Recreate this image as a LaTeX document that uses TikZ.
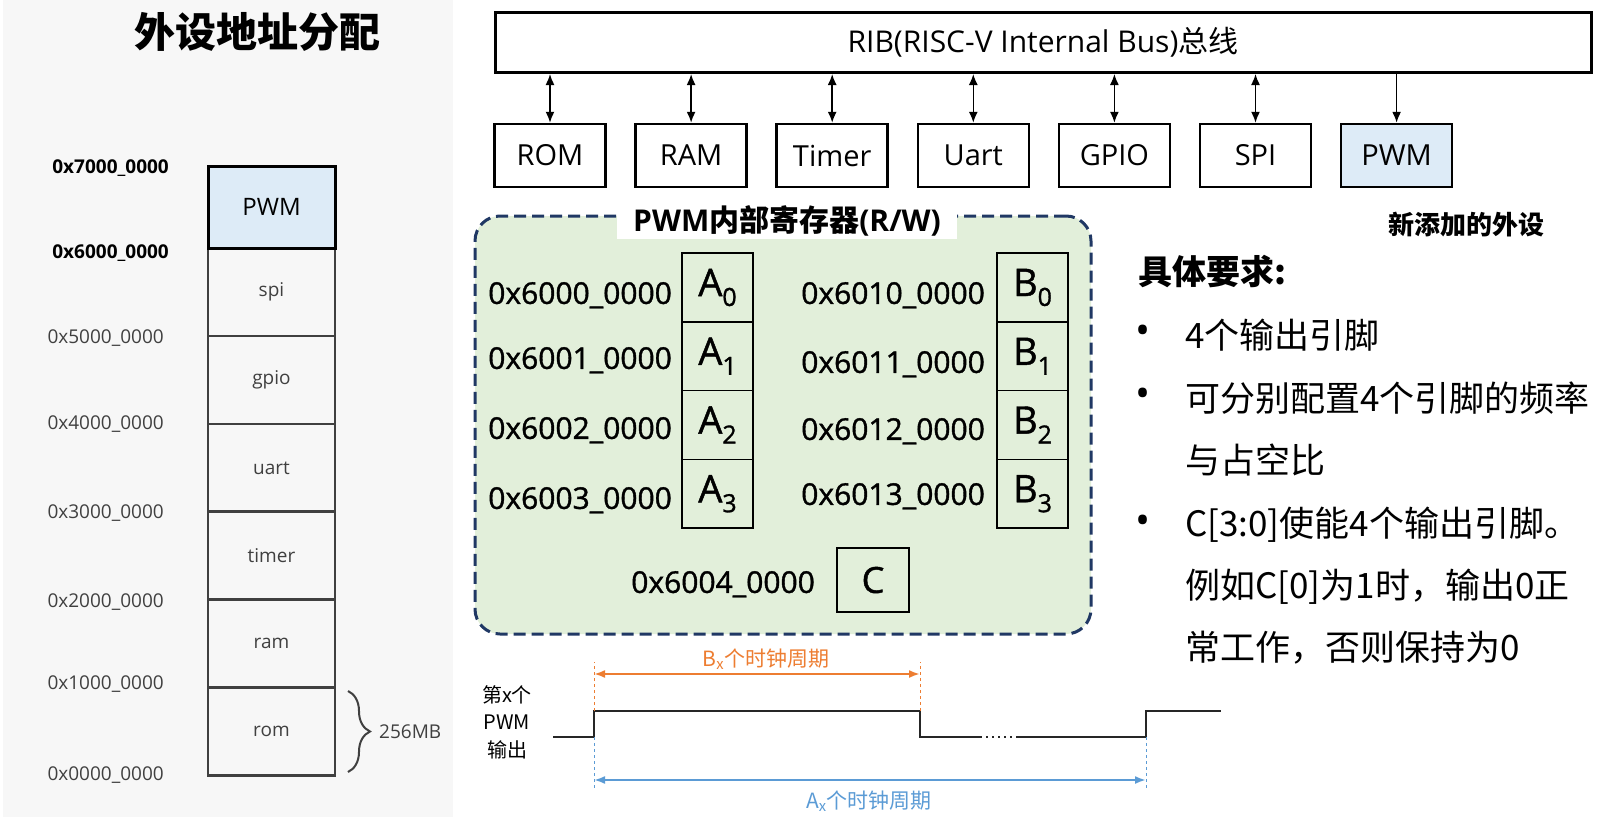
\documentclass[tikz,border=0pt]{standalone}
\usepackage{fontspec}
\usepackage{xcolor}
\usepackage{tikz}
\usetikzlibrary{arrows.meta,decorations.pathreplacing}
\setmainfont{Open Sans}
\newfontfamily\cjk{Noto Sans CJK SC}
\newfontfamily\addrfont[FakeBold=1.2]{Open Sans}
\definecolor{MMPanel}{HTML}{F7F7F7}
\definecolor{MMLine}{HTML}{404040}
\definecolor{PWMBlue}{HTML}{DDEBF7}
\definecolor{RegGreen}{HTML}{E2EFDA}
\definecolor{RegNavy}{HTML}{203864}
\definecolor{WaveOrange}{HTML}{ED7D31}
\definecolor{WaveBlue}{HTML}{5B9BD5}
\newcommand{\fsz}[1]{\fontsize{#1}{#1}\selectfont}
\newcommand{\regsub}[2]{#1\raisebox{-0.26em}{\fsz{25}#2}}
\tikzset{
  memcell/.style={draw=MMLine,line width=2.5pt,minimum width=127pt,minimum height=88pt,inner sep=0pt,font=\fsz{19},text=MMLine},
  memaddr/.style={anchor=east,inner sep=0pt,text depth=0pt,font=\fsz{19},text=MMLine},
  memaddrb/.style={anchor=east,inner sep=0pt,text depth=0pt,font=\bfseries\fsz{19}},
  periph/.style={draw,line width=2.5pt,minimum width=111pt,minimum height=63pt,inner sep=0pt,font=\fsz{29}},
  busarrow/.style={line width=1.5pt,{Latex[length=11pt,width=9pt]}-{Latex[length=11pt,width=9pt]}},
  regbox/.style={draw,line width=1.5pt,minimum width=71pt,minimum height=68.75pt,inner sep=0pt,font=\addrfont\fsz{38}},
  regaddr/.style={anchor=east,inner sep=0pt,text depth=0pt,font=\addrfont\fsz{30}},
  reqline/.style={anchor=west,inner sep=0pt,font=\cjk\fsz{35}},
  reqdot/.style={inner sep=0pt,font=\fsz{40}},
  wave/.style={line width=2.2pt,color=black!85},
  guide/.style={dash pattern=on 3pt off 3pt,line width=1pt},
  dimarrow/.style={line width=2pt,{Latex[length=11pt,width=8pt]}-{Latex[length=11pt,width=8pt]}},
}
\begin{document}
\begin{tikzpicture}[x=1pt,y=-1pt]
\path[use as bounding box] (0,0) rectangle (1617,817);
\fill[MMPanel] (3,0) rectangle (453,817);

% address map
\node[font=\cjk\bfseries\fsz{41}] (maptitle) at (257,32) {外设地址分配};
\node[memcell] (mspi) at (271.5,292) {spi};
\node[memcell] (mgpio) at (271.5,380) {gpio};
\node[memcell] (muart) at (271.5,468) {uart};
\node[memcell] (mtimer) at (271.5,555.5) {timer};
\node[memcell] (mram) at (271.5,643) {ram};
\node[memcell] (mrom) at (271.5,731.5) {rom};
\node[memcell,fill=PWMBlue,draw=black,line width=3pt,minimum height=82pt,text=black,font=\fsz{24}] (mpwm) at (271.5,207) {PWM};
\node[memaddrb] (a7) at (169,167) {0x7000\_0000};
\node[memaddrb] (a6) at (169,252) {0x6000\_0000};
\node[memaddr] (a5) at (164,337) {0x5000\_0000};
\node[memaddr] (a4) at (164,423) {0x4000\_0000};
\node[memaddr] (a3) at (164,512) {0x3000\_0000};
\node[memaddr] (a2) at (164,601) {0x2000\_0000};
\node[memaddr] (a1) at (164,683) {0x1000\_0000};
\node[memaddr] (a0) at (164,774) {0x0000\_0000};
\coordinate (brtop) at (348,691);
\coordinate (brbot) at (348,772);
\draw[decorate,decoration={brace,amplitude=22pt},line width=2pt,MMLine] (brtop) -- (brbot);
\node[memaddr,anchor=west] (romsize) at (379,732) {256MB};

% bus and peripherals
\node[draw,line width=3pt,minimum width=1096pt,minimum height=60pt,inner sep=0pt,font=\fsz{30}] (bus) at (1043,42.5) {RIB(RISC-V Internal Bus){\cjk 总线}};
\node[periph] (rom) at (550,155.5) {ROM};
\node[periph] (ram) at (691.1,155.5) {RAM};
\node[periph] (timer) at (832.2,155.5) {Timer};
\node[periph] (uart) at (973.3,155.5) {Uart};
\node[periph] (gpio) at (1114.4,155.5) {GPIO};
\node[periph] (spi) at (1255.5,155.5) {SPI};
\node[periph,fill=PWMBlue] (pwm) at (1396.6,155.5) {PWM};
\draw[busarrow] (bus.south -| rom) -- (rom.north);
\draw[busarrow] (bus.south -| ram) -- (ram.north);
\draw[busarrow] (bus.south -| timer) -- (timer.north);
\draw[busarrow] (bus.south -| uart) -- (uart.north);
\draw[busarrow] (bus.south -| gpio) -- (gpio.north);
\draw[busarrow] (bus.south -| spi) -- (spi.north);
\draw[line width=1.5pt,-{Latex[length=11pt,width=9pt]}] (bus.south -| pwm) -- (pwm.north);
\node[font=\cjk\bfseries\fsz{26}] (newtag) at (1466,225) {新添加的外设};

% PWM registers
\node[draw=RegNavy,dash pattern=on 12pt off 6pt,line width=3pt,rounded corners=25pt,fill=RegGreen,minimum width=616pt,minimum height=418pt] (regs) at (783,425) {};
\node[fill=white,minimum width=340pt,minimum height=37pt,inner sep=0pt,font=\bfseries\fsz{30}] (regtitle) at (787,220.5) {PWM{\cjk 内部寄存器}(R/W)};
\node[regbox] (ra0) at (717.5,287.5) {\regsub{A}{0}};
\node[regbox] (ra1) at (717.5,356.25) {\regsub{A}{1}};
\node[regbox] (ra2) at (717.5,425) {\regsub{A}{2}};
\node[regbox] (ra3) at (717.5,493.75) {\regsub{A}{3}};
\node[regbox] (rb0) at (1032.5,287.5) {\regsub{B}{0}};
\node[regbox] (rb1) at (1032.5,356.25) {\regsub{B}{1}};
\node[regbox] (rb2) at (1032.5,425) {\regsub{B}{2}};
\node[regbox] (rb3) at (1032.5,493.75) {\regsub{B}{3}};
\node[regbox,minimum width=72pt,minimum height=64pt,font=\addrfont\fsz{36}] (rc) at (873,580) {C};
\node[regaddr] (la0) at (672,293) {0x6000\_0000};
\node[regaddr] (la1) at (672,358) {0x6001\_0000};
\node[regaddr] (la2) at (672,428) {0x6002\_0000};
\node[regaddr] (la3) at (672,498) {0x6003\_0000};
\node[regaddr] (lb0) at (985,293) {0x6010\_0000};
\node[regaddr] (lb1) at (985,362) {0x6011\_0000};
\node[regaddr] (lb2) at (985,429) {0x6012\_0000};
\node[regaddr] (lb3) at (985,494) {0x6013\_0000};
\node[regaddr] (lc) at (815,582) {0x6004\_0000};

% requirements
\node[anchor=west,inner sep=0pt,font=\cjk\bfseries\fsz{34}] (reqhead) at (1138,272) {具体要求:};
\node[reqdot] (dot1) at (1143,335) {•};
\node[reqline] (req1) at (1185,335) {4个输出引脚};
\node[reqdot] (dot2) at (1143,398) {•};
\node[reqline] (req2) at (1185,398) {可分别配置4个引脚的频率};
\node[reqline] (req3) at (1185,460) {与占空比};
\node[reqdot] (dot3) at (1143,525) {•};
\node[reqline] (req4) at (1185,525) {C[3:0]使能4个输出引脚。};
\node[reqline] (req5) at (1185,587) {例如C[0]为1时，输出0正};
\node[reqline] (req6) at (1185,648) {常工作，否则保持为0};

% waveform
\node[font={\cjk\fontsize{20}{27.5}\selectfont},align=center] (wavename) at (507,722) {第x个\\PWM\\输出};
\coordinate (rise1) at (594,711);
\coordinate (fall1) at (920,711);
\coordinate (rise2) at (1146,711);
\draw[wave] (553,737) -- (594,737) -- (rise1) -- (fall1) -- (920,737) -- (982,737);
\draw[wave,line width=2pt,dash pattern=on 2pt off 4pt] (986,737) -- (1014,737);
\draw[wave] (1016,737) -- (1146,737) -- (rise2) -- (1221,711);
\draw[guide,WaveOrange] (rise1) -- ++(0,-49);
\draw[guide,WaveOrange] (fall1) -- ++(0,-49);
\draw[dimarrow,WaveOrange] (594,674) -- (920,674);
\node[font=\cjk\fsz{21},text=WaveOrange] (bcount) at (766,659) {B\textsubscript{x}个时钟周期};
\draw[guide,WaveBlue] (594,737) -- (594,788);
\draw[guide,WaveBlue] (1146,737) -- (1146,788);
\draw[dimarrow,WaveBlue] (594,780) -- (1146,780);
\node[font=\cjk\fsz{21},text=WaveBlue] (acount) at (869,801) {A\textsubscript{x}个时钟周期};
\end{tikzpicture}
\end{document}
